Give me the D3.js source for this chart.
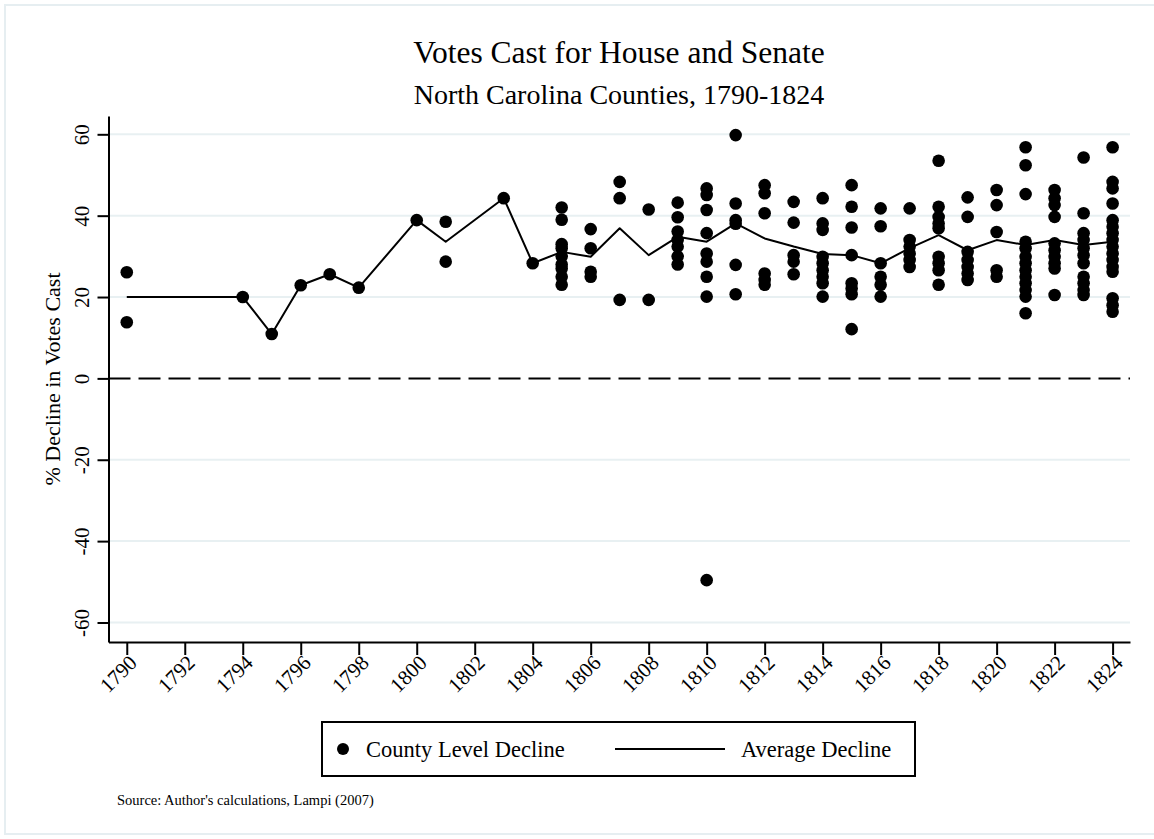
<!DOCTYPE html>
<html>
<head>
<meta charset="utf-8">
<script src="https://cdn.jsdelivr.net/npm/d3@7"></script>
<style>
  html, body { margin: 0; padding: 0; background: #fff; }
  svg { display: block; }
  text { font-family: "Liberation Serif", "Times New Roman", serif; fill: #000; }
  .axis text { font-size: 21px !important; font-family: "Liberation Serif", "Times New Roman", serif !important; }
</style>
</head>
<body>
<svg id="chart" width="1154" height="839"></svg>
<script>
// ---- Data ----
const years = [1790, 1794, 1795, 1796, 1797, 1798, 1800, 1801, 1803, 1804,
  1805, 1806, 1807, 1808, 1809, 1810, 1811, 1812, 1813, 1814,
  1815, 1816, 1817, 1818, 1819, 1820, 1821, 1822, 1823, 1824];

const countyDecline = [
  [26.1, 13.8],
  [20],
  [10.9],
  [22.9],
  [25.6],
  [22.3],
  [38.9],
  [38.5, 28.7],
  [44.3],
  [28.3],
  [42, 39, 33, 32, 30, 28, 27, 25, 23],
  [36.7, 32, 26.2, 25],
  [48.3, 44.3, 19.3],
  [41.5, 19.3],
  [43.2, 39.6, 36.1, 34, 32.4, 30, 28],
  [46.7, 45.1, 41.4, 35.7, 30.7, 28.7, 25, 20.1, -49.6],
  [59.8, 43, 38.9, 38, 27.9, 20.7],
  [47.5, 45.5, 40.6, 25.8, 24.2, 23],
  [43.4, 38.3, 30.3, 28.7, 25.6],
  [44.3, 38.1, 36.5, 29.9, 28.3, 26.6, 25, 23.4, 20.1],
  [47.5, 42.2, 37.1, 30.3, 23.4, 22.1, 20.7, 12.1],
  [41.8, 37.4, 28.3, 25, 23, 20.1],
  [41.8, 34, 32.4, 30.7, 29.1, 27.4],
  [53.5, 42.2, 39.7, 38.1, 36.9, 29.9, 28.3, 26.6, 23],
  [44.5, 39.7, 31.1, 29.1, 27.4, 25.8, 24.2],
  [46.3, 42.6, 36, 26.6, 25],
  [56.8, 52.4, 45.3, 33.6, 32, 29.9, 28.3, 26.6, 25, 23.4, 21.7, 20.1, 16],
  [46.3, 44.3, 42.6, 39.7, 33.2, 31.5, 29.9, 28.3, 27, 20.5],
  [54.3, 40.6, 35.7, 34, 32, 30.3, 28.3, 25, 23.4, 21.7, 20.5],
  [56.8, 48.3, 46.7, 43, 38.9, 37.3, 35.7, 34, 32.4, 30.7, 29.1, 27.4, 26.2, 19.7, 18, 16.4]
];

const averageDecline = [20, 20, 10.9, 22.9, 25.6, 22.3, 38.9, 33.6, 44.3, 28.3,
  31.1, 29.9, 36.9, 30.3, 34.8, 33.6, 38.1, 34.4, 32.4, 30.6,
  30.3, 28.3, 32, 35.2, 31.5, 34, 32.8, 34, 32.8, 33.6];

const xTicks = d3.range(1790, 1825, 2);
const yTicks = [-60, -40, -20, 0, 20, 40, 60];
const gridValues = [-60, -40, -20, 20, 40, 60];

const titleText = "Votes Cast for House and Senate";
const subtitleText = "North Carolina Counties, 1790-1824";
const yTitleText = "% Decline in Votes Cast";
const legendLabels = ["County Level Decline", "Average Decline"];
const sourceText = "Source: Author's calculations, Lampi (2007)";

// ---- Layout ----
const svg = d3.select("#chart");
const L = 108.5, R = 1130, T = 116, B = 642;

// outer faint frame
svg.append("rect").attr("x", 5).attr("y", 5).attr("width", 1160).attr("height", 829)
  .attr("fill", "none").attr("stroke", "#e6eef1").attr("stroke-width", 2);

const x = d3.scaleLinear().domain([1789.37, 1824.6]).range([L, R]);
const y = d3.scaleLinear().domain([-64.8, 64.5]).range([B, T]);

// gridlines
svg.append("g").selectAll("line").data(gridValues).join("line")
  .attr("x1", L).attr("x2", R)
  .attr("y1", d => y(d)).attr("y2", d => y(d))
  .attr("stroke", "#e8f0f2").attr("stroke-width", 2);

// zero dashed line
svg.append("line")
  .attr("x1", L).attr("x2", R).attr("y1", y(0)).attr("y2", y(0))
  .attr("stroke", "#000").attr("stroke-width", 2)
  .attr("stroke-dasharray", "22,8");

const fmt = d => String(d);

// y axis
const yAxis = svg.append("g").attr("class", "axis").attr("transform", `translate(${L},0)`)
  .call(d3.axisLeft(y).tickValues(yTicks).tickSize(11).tickSizeOuter(0).tickFormat(fmt));
yAxis.attr("font-size", 21).attr("font-family", "Liberation Serif, Times New Roman, serif");
yAxis.select(".domain").attr("stroke", "#000").attr("stroke-width", 2);
yAxis.selectAll(".tick line").attr("stroke", "#000").attr("stroke-width", 2);
yAxis.selectAll(".tick text")
  .attr("x", 0).attr("y", -20).attr("dy", 0)
  .attr("transform", "rotate(-90)")
  .attr("text-anchor", "middle")
  .attr("fill", "#000");

// x axis
const xAxis = svg.append("g").attr("class", "axis").attr("transform", `translate(0,${B})`)
  .call(d3.axisBottom(x).tickValues(xTicks).tickSize(13).tickSizeOuter(0).tickFormat(fmt));
xAxis.attr("font-size", 21).attr("font-family", "Liberation Serif, Times New Roman, serif");
xAxis.select(".domain").attr("stroke", "#000").attr("stroke-width", 2);
xAxis.selectAll(".tick line").attr("stroke", "#000").attr("stroke-width", 2);
xAxis.selectAll(".tick text")
  .attr("x", 0).attr("y", 0).attr("dy", 0)
  .attr("transform", "translate(11,22) rotate(-45)")
  .attr("text-anchor", "end")
  .attr("fill", "#000");

// average line
const lineData = years.map((yr, i) => ({ year: yr, v: averageDecline[i] }));
svg.append("path").datum(lineData)
  .attr("fill", "none").attr("stroke", "#000").attr("stroke-width", 2)
  .attr("stroke-linejoin", "round")
  .attr("d", d3.line().x(d => x(d.year)).y(d => y(d.v)));

// county points
const pts = [];
years.forEach((yr, i) => countyDecline[i].forEach(v => pts.push({ year: yr, v })));
svg.append("g").selectAll("circle").data(pts).join("circle")
  .attr("cx", d => x(d.year)).attr("cy", d => y(d.v)).attr("r", 6.3)
  .attr("fill", "#000");

// titles
svg.append("text").attr("x", 619).attr("y", 63).attr("text-anchor", "middle")
  .style("font-size", "31.5px").text(titleText);
svg.append("text").attr("x", 619).attr("y", 104).attr("text-anchor", "middle")
  .style("font-size", "28px").text(subtitleText);

// y title
svg.append("text")
  .attr("transform", `translate(60,${(T + B) / 2}) rotate(-90)`)
  .attr("text-anchor", "middle")
  .style("font-size", "22px").text(yTitleText);

// legend
const lg = svg.append("g");
lg.append("rect").attr("x", 322).attr("y", 722).attr("width", 593).attr("height", 54)
  .attr("fill", "#fff").attr("stroke", "#000").attr("stroke-width", 2);
lg.append("circle").attr("cx", 343).attr("cy", 749).attr("r", 6).attr("fill", "#000");
lg.append("text").attr("x", 366).attr("y", 756.5).style("font-size", "22.5px").text(legendLabels[0]);
lg.append("line").attr("x1", 615).attr("x2", 725).attr("y1", 749).attr("y2", 749)
  .attr("stroke", "#000").attr("stroke-width", 2);
lg.append("text").attr("x", 741).attr("y", 756.5).style("font-size", "22.5px").text(legendLabels[1]);

// source
svg.append("text").attr("x", 117).attr("y", 805).style("font-size", "14.5px").text(sourceText);
</script>
</body>
</html>
